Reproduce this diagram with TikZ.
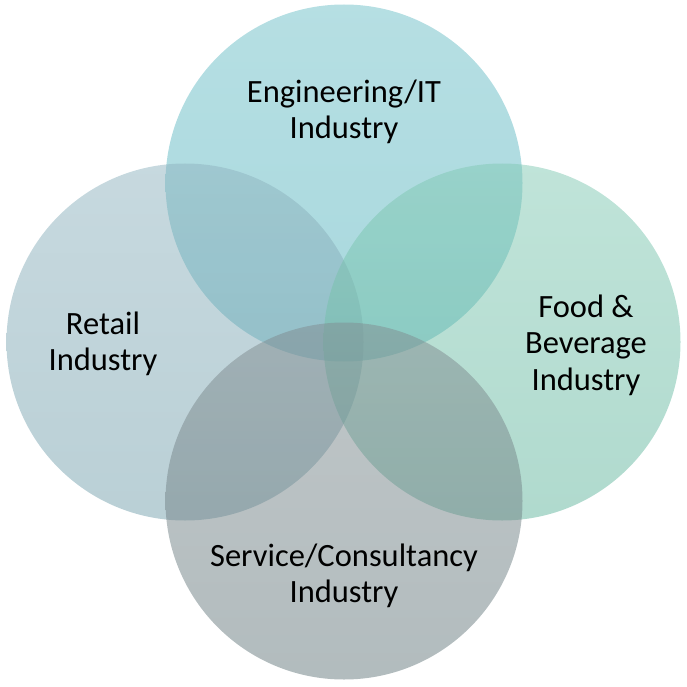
\documentclass[tikz,border=0pt]{standalone}
\usepackage{fontspec}
\setmainfont{Carlito}
\definecolor{engtop}{RGB}{109,191,199}
\definecolor{engbot}{RGB}{81,177,189}
\definecolor{rettop}{RGB}{143,179,191}
\definecolor{retbot}{RGB}{117,161,173}
\definecolor{foodtop}{RGB}{129,201,179}
\definecolor{foodbot}{RGB}{97,181,157}
\definecolor{servtop}{RGB}{129,141,145}
\definecolor{servbot}{RGB}{101,121,125}
\begin{document}
\begin{tikzpicture}[x=1pt,y=-1pt]
      \useasboundingbox (0,0) rectangle (687,687);

      \begin{scope}[every node/.style={circle,inner sep=0pt,minimum size=357pt,fill opacity=.5}]
        \node[top color=engtop,bottom color=engbot]   (eng)  at (344,183) {};
        \node[top color=rettop,bottom color=retbot]   (ret)  at (185,342) {};
        \node[top color=foodtop,bottom color=foodbot] (food) at (502,342) {};
        \node[top color=servtop,bottom color=servbot] (serv) at (344,501) {};
      \end{scope}

      \begin{scope}[every node/.style={align=center,inner sep=0pt,font=\fontsize{32.5}{36.5}\selectfont}]
        \node (englabel)  at (344,112) {Engineering/IT\\Industry};
        \node (retlabel)  at (103,344) {Retail\\Industry};
        \node (foodlabel) at (586,345) {Food \&\\Beverage\\Industry};
        \node (servlabel) at (344,576) {Service/Consultancy\\Industry};
      \end{scope}

    \end{tikzpicture}
\end{document}
